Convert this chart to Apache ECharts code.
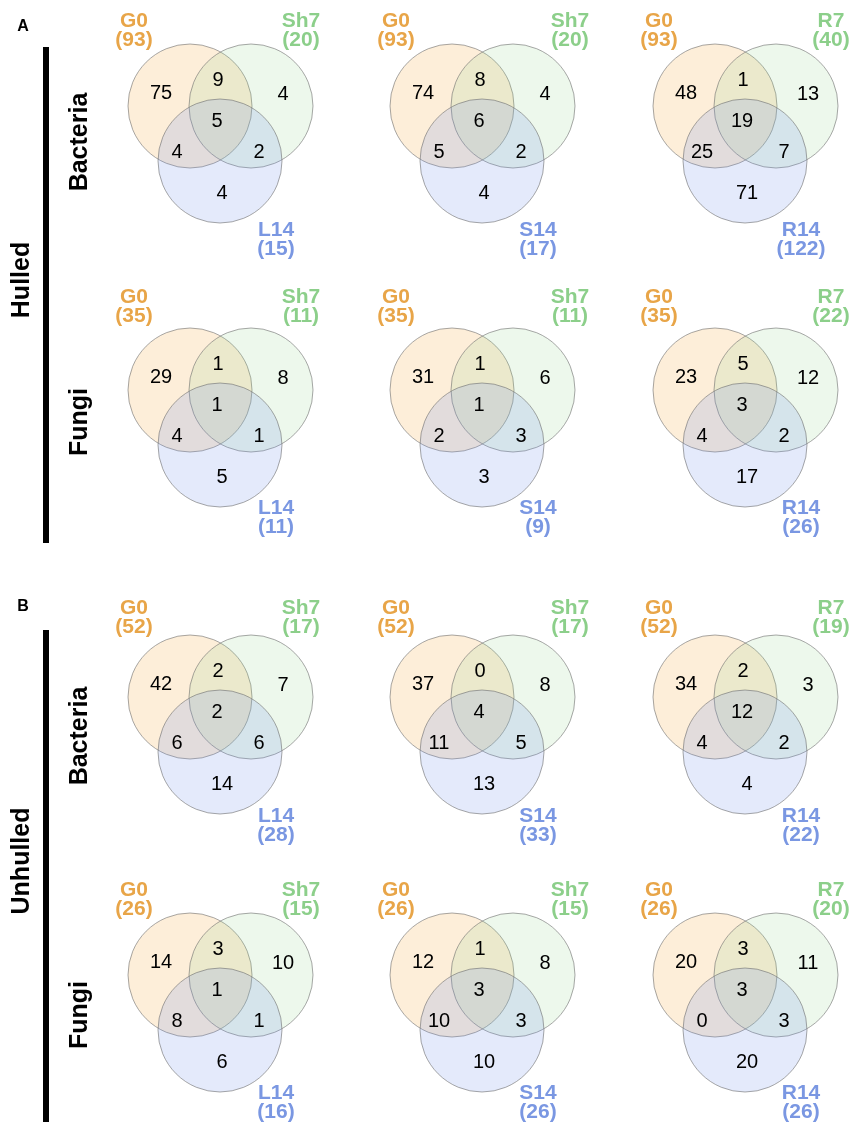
<!DOCTYPE html>
<html>
<head>
<meta charset="utf-8">
<script src="https://cdn.jsdelivr.net/npm/echarts@6/dist/echarts.min.js"></script>
<style>
    html, body { margin: 0; padding: 0; background: #fff; }
    #chart { width: 853px; height: 1126px; }
</style>
</head>
<body>
<div id="chart"></div>
<script>
    // set names, one triple per column
    var setNames = [
        ['G0', 'Sh7', 'L14'],
        ['G0', 'Sh7', 'S14'],
        ['G0', 'R7', 'R14']
    ];
    var groupNames = ['Hulled', 'Unhulled'];
    var panelLetters = ['A', 'B'];
    var kingdomNames = ['Bacteria', 'Fungi', 'Bacteria', 'Fungi'];

    // set totals [first, second, third] per row, per column
    var setTotals = [
        [[93, 20, 15], [93, 20, 17], [93, 40, 122]],
        [[35, 11, 11], [35, 11, 9], [35, 22, 26]],
        [[52, 17, 28], [52, 17, 33], [52, 19, 22]],
        [[26, 15, 16], [26, 15, 26], [26, 20, 26]]
    ];

    // region counts: [1 only, 1&2, 2 only, 1&2&3, 1&3, 2&3, 3 only]
    var regionCounts = [
        [[75, 9, 4, 5, 4, 2, 4], [74, 8, 4, 6, 5, 2, 4], [48, 1, 13, 19, 25, 7, 71]],
        [[29, 1, 8, 1, 4, 1, 5], [31, 1, 6, 1, 2, 3, 3], [23, 5, 12, 3, 4, 2, 17]],
        [[42, 2, 7, 2, 6, 6, 14], [37, 0, 8, 4, 11, 5, 13], [34, 2, 3, 12, 4, 2, 4]],
        [[14, 3, 10, 1, 8, 1, 6], [12, 1, 8, 3, 10, 3, 10], [20, 3, 11, 3, 0, 3, 20]]
    ];

    // layout (pixels)
    var colX = [190, 452, 715];
    var rowY = [106, 390, 697, 975];
    var topNameY = [31, 307, 618, 900];      // middle of the two-line label
    var bottomNameY = [240, 518, 826, 1103];
    var greenNameDx = [111, 118, 116];
    var R = 62;
    var circleOffsets = [[0, 0], [61, 0], [30, 55]];
    var regionOffsets = [[-29, -13], [28, -26], [93, -12], [27, 15], [-13, 46], [69, 46], [32, 87]];
    var fills = ['rgba(246,168,66,0.2)', 'rgba(140,210,135,0.16)', 'rgba(120,150,236,0.2)'];
    var textColors = ['#e8a548', '#8ccf8a', '#7a97e2'];
    var font = "'Liberation Sans', Arial, sans-serif";

    var circleData = [[], [], []];
    var numberData = [];
    var nameData = [];
    for (let r = 0; r < 4; r++) {
        for (let c = 0; c < 3; c++) {
            let cx = colX[c], cy = rowY[r];
            for (let k = 0; k < 3; k++) {
                circleData[k].push([cx + circleOffsets[k][0], cy + circleOffsets[k][1]]);
            }
            regionCounts[r][c].forEach(function (v, i) {
                numberData.push({value: [cx + regionOffsets[i][0], cy + regionOffsets[i][1]], text: String(v)});
            });
            let names = setNames[c], totals = setTotals[r][c];
            nameData.push({value: [cx - 56, topNameY[r]], text: names[0] + '\n(' + totals[0] + ')', color: textColors[0]});
            nameData.push({value: [cx + greenNameDx[c], topNameY[r]], text: names[1] + '\n(' + totals[1] + ')', color: textColors[1]});
            nameData.push({value: [cx + 86, bottomNameY[r]], text: names[2] + '\n(' + totals[2] + ')', color: textColors[2]});
        }
    }

    var sideData = [
        {value: [23, 27], text: panelLetters[0], size: 16, rot: 0},
        {value: [23, 607], text: panelLetters[1], size: 16, rot: 0},
        {value: [22, 280], text: groupNames[0], size: 25, rot: 90},
        {value: [22, 861], text: groupNames[1], size: 25, rot: 90},
        {value: [80, 142], text: kingdomNames[0], size: 25, rot: 90},
        {value: [80, 422], text: kingdomNames[1], size: 25, rot: 90},
        {value: [80, 736], text: kingdomNames[2], size: 25, rot: 90},
        {value: [80, 1015], text: kingdomNames[3], size: 25, rot: 90}
    ];

    var series = [];
    for (let k = 0; k < 3; k++) {
        series.push({
            type: 'scatter',
            symbol: 'circle',
            symbolSize: R * 2,
            itemStyle: {color: fills[k], borderColor: 'rgba(110,110,110,0.6)', borderWidth: 1, opacity: 1},
            data: circleData[k],
            z: 2
        });
    }
    series.push({
        type: 'scatter',
        symbolSize: 0,
        itemStyle: {opacity: 1},
        data: numberData,
        label: {
            show: true, position: 'inside', color: '#000', fontSize: 20, fontFamily: font,
            formatter: function (p) { return p.data.text; }
        },
        z: 5
    });
    series.push({
        type: 'scatter',
        symbolSize: 0,
        itemStyle: {opacity: 1},
        data: nameData.map(function (d) {
            return {
                value: d.value, text: d.text,
                label: {color: d.color}
            };
        }),
        label: {
            show: true, position: 'inside', fontSize: 21, fontWeight: 'bold', lineHeight: 19, fontFamily: font,
            formatter: function (p) { return p.data.text; }
        },
        z: 5
    });
    series.push({
        type: 'scatter',
        symbolSize: 0,
        itemStyle: {opacity: 1},
        data: sideData.map(function (d) {
            return {value: d.value, text: d.text, label: {fontSize: d.size, rotate: d.rot}};
        }),
        label: {
            show: true, position: 'inside', color: '#000', fontWeight: 'bold', fontFamily: font,
            formatter: function (p) { return p.data.text; }
        },
        z: 5
    });
    // the two black bracket bars
    series.push({
        type: 'scatter',
        symbol: 'rect',
        data: [
            {value: [46, 295], symbolSize: [6, 496]},
            {value: [46, 876], symbolSize: [6, 492]}
        ],
        itemStyle: {color: '#000', opacity: 1},
        z: 3
    });

    var chart = echarts.init(document.getElementById('chart'));
    chart.setOption({
        animation: false,
        backgroundColor: '#fff',
        grid: {left: 0, right: 0, top: 0, bottom: 0},
        xAxis: {type: 'value', min: 0, max: 853, show: false},
        yAxis: {type: 'value', min: 0, max: 1126, inverse: true, show: false},
        series: series
    });
</script>
</body>
</html>
